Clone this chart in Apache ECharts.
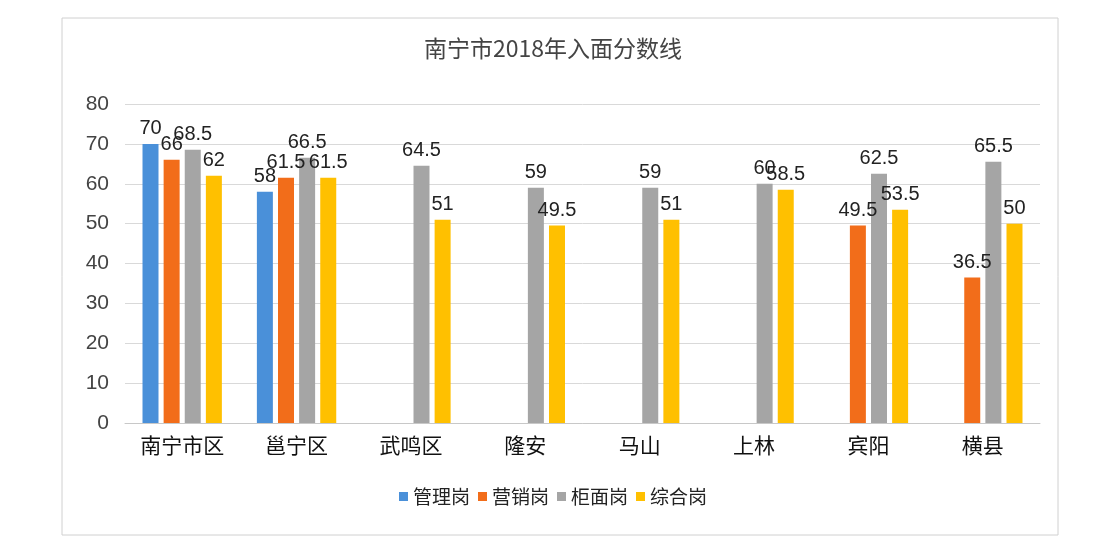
<!DOCTYPE html>
<html><head><meta charset="utf-8">
<script src="https://cdn.jsdelivr.net/npm/echarts@6/dist/echarts.min.js"></script>
<style>html,body{margin:0;padding:0;background:#fff}#c{width:1106px;height:554px}</style>
</head><body><div id="c"></div>
<script>
const categories = ['南宁市区','邕宁区','武鸣区','隆安','马山','上林','宾阳','横县'];
const seriesNames = ['管理岗','营销岗','柜面岗','综合岗'];
const guanli = [70, 58, null, null, null, null, null, null];
const yingxiao = [66, 61.5, null, null, null, null, 49.5, 36.5];
const guimian = [68.5, 66.5, 64.5, 59, 59, 60, 62.5, 65.5];
const zonghe = [62, 61.5, 51, 49.5, 51, 58.5, 53.5, 50];
const colors = ['#4a90d9','#f26d1a','#a5a5a5','#ffc000'];
const values = [guanli, yingxiao, guimian, zonghe];

const chart = echarts.init(document.getElementById('c'));
chart.setOption({
  backgroundColor:'#fff',
  animation:false,
  title:{text:'南宁市2018年入面分数线',left:'center',top:32,
    textStyle:{fontSize:23,fontWeight:'normal',color:'#444',fontFamily:'Noto Sans CJK SC'}},
  graphic:[{type:'rect',shape:{x:62,y:18,width:996,height:517},
    style:{fill:'none',stroke:'#d0d0d0',lineWidth:1},z:-1}],
  legend:{bottom:43,left:'center',itemWidth:9,itemHeight:9,itemGap:8,icon:'rect',
    textStyle:{fontSize:19,color:'#222',fontFamily:'Noto Sans CJK SC'}},
  grid:{left:125,right:66,top:104,bottom:131},
  xAxis:{type:'category',data:categories,
    axisLine:{lineStyle:{color:'#c8c8c8'}},axisTick:{show:false},
    axisLabel:{interval:0,fontSize:21,color:'#111',margin:12,fontFamily:'Noto Sans CJK SC'}},
  yAxis:{type:'value',min:0,max:80,interval:10,
    axisLine:{show:false},axisTick:{show:false},
    splitLine:{lineStyle:{color:'#d9d9d9'}},
    axisLabel:{fontSize:21,color:'#444',margin:16,fontFamily:'Liberation Sans'}},
  series: seriesNames.map((n,i)=>({
    name:n,type:'bar',data:values[i],barWidth:16,barGap:'32%',
    itemStyle:{color:colors[i]},
    label:{show:true,position:'top',fontSize:20,color:'#222',distance:5,fontFamily:'Liberation Sans'}
  }))
});
</script></body></html>
